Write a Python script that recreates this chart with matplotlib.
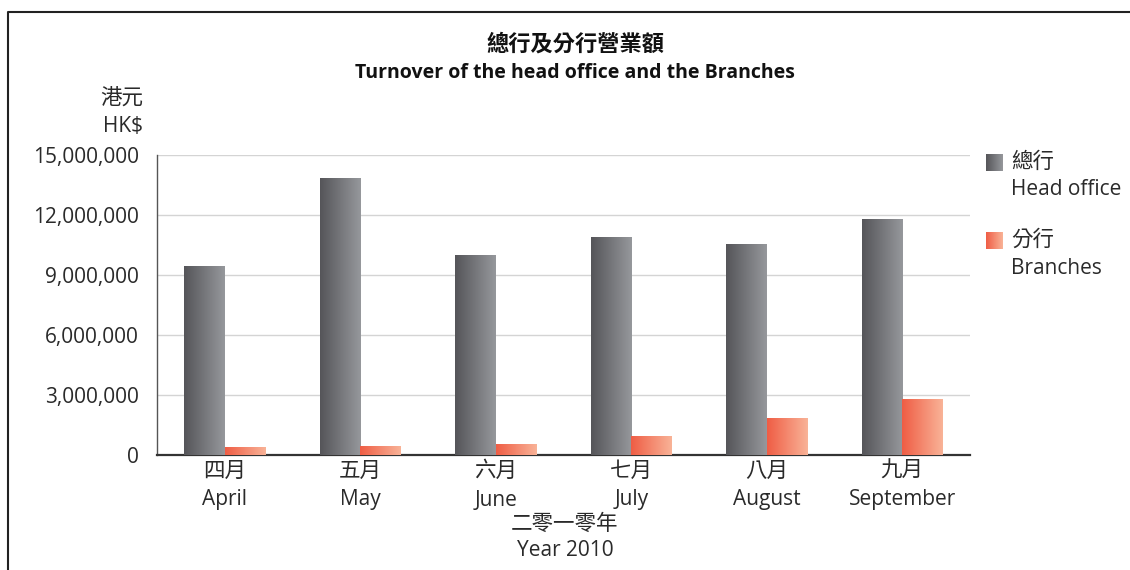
import matplotlib
matplotlib.use('Agg')
import matplotlib.pyplot as plt
import numpy as np
from matplotlib.colors import LinearSegmentedColormap
from matplotlib.patches import Rectangle
from matplotlib.lines import Line2D

months_zh = ['四月', '五月', '六月', '七月', '八月', '九月']
months_en = ['April', 'May', 'June', 'July', 'August', 'September']
head_office = [9450000, 13850000, 10000000, 10900000, 10550000, 11800000]
branches = [400000, 450000, 550000, 950000, 1850000, 2800000]
y_ticks = [0, 3000000, 6000000, 9000000, 12000000, 15000000]

plt.rcParams['font.family'] = ['Open Sans', 'Noto Sans CJK TC', 'DejaVu Sans']

gray_cmap = LinearSegmentedColormap.from_list('g', ['#555559', '#96989c'])
orange_cmap = LinearSegmentedColormap.from_list('o', ['#ef5d45', '#f9b397'])
grad = np.linspace(0, 1, 256).reshape(1, -1)
txt = '#2a2a2a'
fs = 15
fs_zh = 15.5

fig = plt.figure(figsize=(11.3, 5.7), dpi=100)
ax = fig.add_axes([157 / 1130, 1 - 455 / 570, 813 / 1130, 300 / 570])

x = np.arange(len(months_en))
w = 0.30


def grad_bars(xs, hs, cmap):
    for xc, h in zip(xs, hs):
        r = Rectangle((xc - w / 2, 0), w, h, facecolor='none', edgecolor='none')
        ax.add_patch(r)
        im = ax.imshow(grad, extent=[xc - w / 2, xc + w / 2, 0, h], aspect='auto',
                       cmap=cmap, interpolation='bilinear', zorder=3)
        im.set_clip_path(r)


grad_bars(x - w / 2, head_office, gray_cmap)
grad_bars(x + w / 2, branches, orange_cmap)

ax.set_xlim(-0.5, len(months_en) - 0.5)
ax.set_ylim(0, 15000000)
ax.set_yticks(y_ticks)
ax.set_yticklabels(['{:,}'.format(v) for v in y_ticks], fontsize=fs, color=txt)
ax.set_xticks([])
ax.tick_params(axis='y', length=0, pad=13)
ax.grid(axis='y', color='#d4d4d4', linewidth=1.0, zorder=0)
ax.set_axisbelow(True)
for s in ['top', 'right']:
    ax.spines[s].set_visible(False)
ax.spines['left'].set_color('#555555')
ax.spines['left'].set_linewidth(1.0)
ax.spines['bottom'].set_color('#333333')
ax.spines['bottom'].set_linewidth(1.6)

# month labels
tr = ax.get_xaxis_transform()
for xi, zh, en in zip(x, months_zh, months_en):
    ax.text(xi, -0.055, zh, transform=tr, ha='center', va='center', fontsize=fs_zh, color=txt)
    ax.text(xi, -0.15, en, transform=tr, ha='center', va='center', fontsize=fs, color=txt)

# x-axis title
fig.text(565 / 1130, 1 - 524 / 570, '二零一零年', ha='center', va='center', fontsize=fs_zh, color=txt)
fig.text(565 / 1130, 1 - 551 / 570, 'Year 2010', ha='center', va='center', fontsize=fs, color=txt)

# y unit
fig.text(143 / 1130, 1 - 98 / 570, '港元', ha='right', va='center', fontsize=fs_zh, color=txt)
fig.text(143 / 1130, 1 - 126 / 570, 'HK$', ha='right', va='center', fontsize=fs, color=txt)

# title
fig.text(575 / 1130, 1 - 45 / 570, '總行及分行營業額', ha='center', va='center',
         fontsize=16, fontweight='bold', color='#111111')
fig.text(575 / 1130, 1 - 73 / 570, 'Turnover of the head office and the Branches',
         ha='center', va='center', fontsize=14, fontweight='bold', color='#111111')

# legend
legend_items = [('總行', 'Head office', gray_cmap, 162), ('分行', 'Branches', orange_cmap, 240)]
for zh, en, cmap, yc in legend_items:
    lax = fig.add_axes([986 / 1130, 1 - (yc + 9) / 570, 17 / 1130, 17 / 570])
    lax.imshow(grad, aspect='auto', cmap=cmap, interpolation='bilinear')
    lax.axis('off')
    fig.text(1011 / 1130, 1 - yc / 570, zh, ha='left', va='center', fontsize=fs_zh, color=txt)
    fig.text(1011 / 1130, 1 - (yc + 28) / 570, en, ha='left', va='center', fontsize=fs, color=txt)

# outer frame (left and top edges)
fx = 8 / 1130
fy = 1 - 12 / 570
fig.add_artist(Line2D([fx, fx, 1.0], [0.0, fy, fy], transform=fig.transFigure,
                      color='#222222', linewidth=1.5))

fig.savefig('out.png', dpi=100)
